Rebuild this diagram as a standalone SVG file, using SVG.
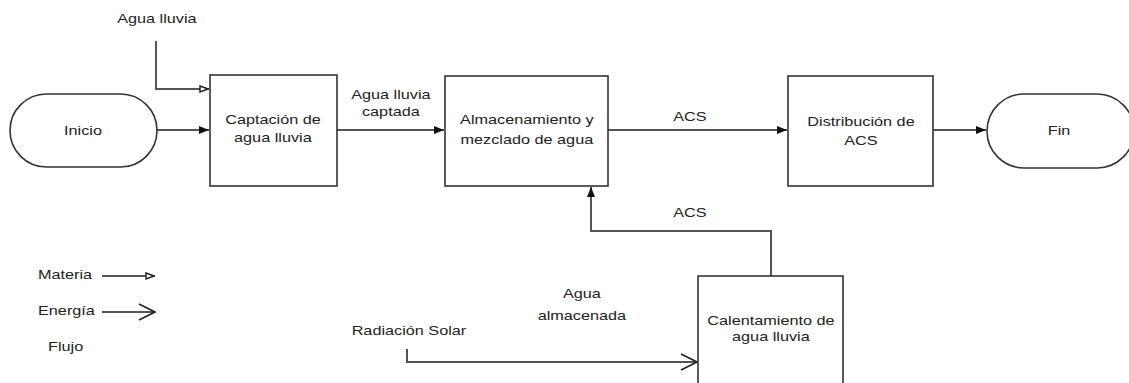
<svg xmlns="http://www.w3.org/2000/svg" width="1129" height="383" viewBox="0 0 1129 383">
<defs>
<style>
.n{fill:#fff;stroke:#333;stroke-width:1.6}
.c{fill:none;stroke:#555;stroke-width:2}
.t,.l{font-family:"Liberation Sans",Arial,sans-serif;font-size:12.5px;fill:#222;transform-box:fill-box;transform:scaleX(1.3)}
.t{text-anchor:middle;transform-origin:center}
.l{text-anchor:start;transform-origin:left center}
</style>
<marker id="f" viewBox="0 0 10 10" refX="10" refY="5" markerWidth="10" markerHeight="10" markerUnits="userSpaceOnUse" orient="auto"><path d="M0,1 L10,5 L0,9 Z" fill="#111"/></marker>
<marker id="m" viewBox="0 0 10 10" refX="10" refY="5" markerWidth="10" markerHeight="10" markerUnits="userSpaceOnUse" orient="auto"><path d="M1,2 L9,5 L1,8 Z" fill="#fff" stroke="#222" stroke-width="1.5"/></marker>
<marker id="e" viewBox="0 0 18 18" refX="17" refY="9" markerWidth="18" markerHeight="18" markerUnits="userSpaceOnUse" orient="auto"><path d="M1,1 L17,9 L1,17" fill="none" stroke="#222" stroke-width="1.6"/></marker>
</defs>
<rect width="1129" height="383" fill="#fff"/>
<g id="connectors">
<path class="c" d="M157,130 H209" marker-end="url(#f)"/>
<path class="c" d="M156,41 V89 H209" marker-end="url(#m)"/>
<path class="c" d="M337,130 H444" marker-end="url(#f)"/>
<path class="c" d="M608,130 H787" marker-end="url(#f)"/>
<path class="c" d="M933,130 H986" marker-end="url(#f)"/>
<path class="c" d="M771,276 V231 H591 V187" marker-end="url(#f)"/>
<path class="c" d="M407,349 V362 H697" marker-end="url(#e)"/>
<path class="c" d="M102,276 H155" marker-end="url(#m)"/>
<path class="c" d="M102,312 H155" marker-end="url(#e)"/>
<text class="t" x="157" y="23">Agua lluvia</text>
<text class="t" x="391" y="99">Agua lluvia</text>
<text class="t" x="391" y="116">captada</text>
<text class="t" x="690" y="121">ACS</text>
<text class="t" x="690" y="217">ACS</text>
<text class="t" x="409" y="335">Radiación Solar</text>
<text class="t" x="582" y="298">Agua</text>
<text class="t" x="582" y="320">almacenada</text>
</g>
<g id="inicio"><rect class="n" x="10" y="94" width="147" height="73" rx="36.5"/><text class="t" x="83" y="135">Inicio</text></g>
<g id="captacion"><rect class="n" x="210" y="75" width="127" height="111"/><text class="t" x="273" y="124">Captación de</text><text class="t" x="273" y="142">agua lluvia</text></g>
<g id="almacenamiento"><rect class="n" x="445" y="76" width="163" height="110"/><text class="t" x="527" y="124">Almacenamiento y</text><text class="t" x="527" y="144">mezclado de agua</text></g>
<g id="distribucion"><rect class="n" x="788" y="76" width="145" height="110"/><text class="t" x="861" y="126">Distribución de</text><text class="t" x="861" y="145">ACS</text></g>
<g id="fin"><rect class="n" x="987" y="94" width="147" height="74" rx="37"/><text class="t" x="1059" y="135">Fin</text></g>
<g id="calentamiento"><rect class="n" x="698" y="276" width="145" height="112"/><text class="t" x="771" y="325">Calentamiento de</text><text class="t" x="771" y="341">agua lluvia</text></g>
<g id="leyenda">
<text class="l" x="38" y="279">Materia</text>
<text class="l" x="38" y="315">Energía</text>
<text class="l" x="48" y="351">Flujo</text>
</g>
</svg>
